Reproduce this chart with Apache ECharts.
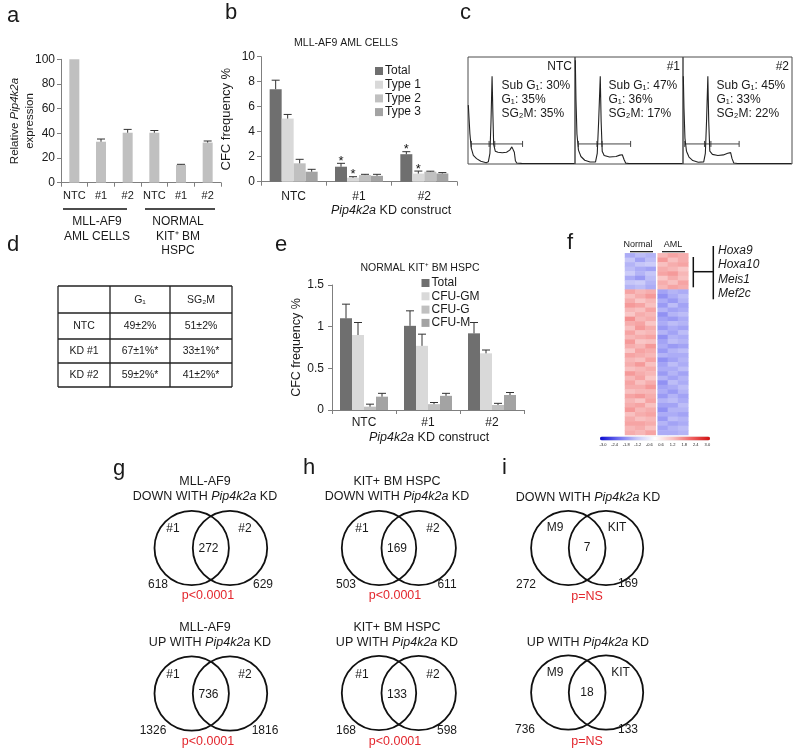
<!DOCTYPE html>
<html><head><meta charset="utf-8">
<script src="https://cdn.jsdelivr.net/npm/echarts@6/dist/echarts.min.js"></script>
<style>html,body{margin:0;padding:0;background:#fff}#c{width:800px;height:755px}</style>
</head><body><div id="c"></div>
<script>
const FONT = '"Liberation Sans", Arial, sans-serif';

// ---------- Panel a ----------
const aCategories = ['NTC', '#1', '#2', 'NTC', '#1', '#2'];
const aValues = [100, 33.2, 40.5, 40.5, 14.5, 32.5];
const aErrors = [0, 2.2, 2.7, 1.8, 0.4, 1.3];
const aGroup1 = ['MLL-AF9', 'AML CELLS'];
const aGroup2 = ['NORMAL', 'KIT\u207A BM', 'HSPC'];

// ---------- Panel b ----------
const bCategories = ['NTC', '#1', '#2'];
const bSeriesNames = ['Total', 'Type 1', 'Type 2', 'Type 3'];
const bTotal = [7.4, 1.2, 2.2];
const bType1 = [5.05, 0.32, 0.65];
const bType2 = [1.47, 0.53, 0.8];
const bType3 = [0.8, 0.47, 0.66];
const bTotalErr = [0.72, 0.27, 0.2];
const bType1Err = [0.33, 0.08, 0.2];
const bType2Err = [0.32, 0.06, 0.04];
const bType3Err = [0.19, 0.12, 0.07];
const bTotalSig = [0, 1, 1];
const bType1Sig = [0, 1, 1];

// ---------- Panel c ----------
const cLabels = ['NTC', '#1', '#2'];
const cSubG1 = [30, 47, 45];
const cG1 = [35, 36, 33];
const cSG2M = [35, 17, 22];
const cHistNTC = [[0.3,55],[1,42],[1.8,28],[3,15],[5,8],[8,5],[12,2.5],[17,1.2],[19,2],[20.5,10],[21.5,40],[22.5,82],[23.3,45],[24,18],[25.5,12],[28,11],[32,10.5],[36,11],[39,13],[41,16],[42.2,17],[43.3,11],[44.3,3],[45.5,1],[50,0.6],[99.5,0.5]];
const cHist1 = [[0.3,97],[0.9,60],[1.8,28],[3.2,13],[5.5,7],[9,3.5],[14,1.8],[19,2],[20.6,10],[21.9,40],[23.4,82],[24.2,40],[25.2,12],[27,8],[32,6.5],[38,7],[41.5,8.3],[43.8,8.6],[45.5,4],[47,0.8],[50,0.5],[99.5,0.5]];
const cHist2 = [[0.3,82],[0.9,52],[1.8,24],[3.2,12],[5.5,6.5],[9,3.2],[14,1.6],[19,2],[20.5,10],[21.6,40],[22.8,82],[23.6,40],[24.6,12],[27,9],[32,8],[37,8.5],[41,10],[43.7,10.6],[45,5],[46.6,1],[50,0.5],[99.5,0.5]];
const cGates = [[3.1, 51, 19.7, 25, 18.75], [3.1, 51.5, 20.3, 25, 18.75], [1.6, 51.5, 19.7, 25.6, 18.75]];

// ---------- Panel d ----------
const dHeader = ['', 'G\u2081', 'SG\u2082M'];
const dRows = ['NTC', 'KD #1', 'KD #2'];
const dG1 = ['49\u00B12%', '67\u00B11%*', '59\u00B12%*'];
const dSG2M = ['51\u00B12%', '33\u00B11%*', '41\u00B12%*'];

// ---------- Panel e ----------
const eCategories = ['NTC', '#1', '#2'];
const eSeriesNames = ['Total', 'CFU-GM', 'CFU-G', 'CFU-M'];
const eTotal = [1.1, 1.01, 0.92];
const eGM = [0.9, 0.77, 0.68];
const eG = [0.04, 0.07, 0.06];
const eM = [0.16, 0.17, 0.18];
const eTotalErr = [0.17, 0.18, 0.13];
const eGMErr = [0.15, 0.14, 0.04];
const eGErr = [0.03, 0.02, 0.02];
const eMErr = [0.04, 0.03, 0.03];

// ---------- Panel f ----------
const fGroups = ['Normal', 'AML'];
const fGenes = ['Hoxa9', 'Hoxa10', 'Meis1', 'Mef2c'];
const fColorbarTicks = ['-3.0','-2.4','-1.8','-1.2','-0.6','0.6','1.2','1.8','2.4','3.0'];
const normalRows = [
[-1.3,-1.1,-1.2],[-1.0,-1.4,-1.1],[-1.2,-1.0,-0.9],[-1.1,-1.3,-1.4],[-0.9,-1.2,-1.0],[-1.3,-1.5,-1.1],[-1.0,-0.9,-1.2],[-1.2,-1.1,-1.3],
[1.3,1.1,1.2],[1.0,1.2,1.4],[1.2,0.9,1.1],[1.4,1.3,1.0],[1.1,1.0,1.3],[0.9,1.2,1.1],[1.5,1.1,1.2],[1.2,1.3,0.9],
[1.0,1.4,1.2],[1.3,1.0,1.1],[1.1,1.2,1.3],[1.4,0.9,1.0],[1.2,1.1,1.4],[0.9,1.3,1.2],[1.3,1.2,1.1],[1.1,1.0,1.3],
[1.2,1.4,1.0],[1.0,1.1,1.2],[1.4,1.2,1.1],[1.1,1.3,0.9],[1.3,1.0,1.2],[1.2,1.2,1.4],[1.0,1.1,1.1],[1.3,1.4,1.2],
[1.1,0.9,1.3],[1.2,1.3,1.0],[1.4,1.1,1.2],[1.0,1.2,1.3],[1.2,1.0,1.1],[1.3,1.3,1.2],[1.1,1.2,1.0],[1.2,1.1,1.3]];
const amlRows = [
[1.1,1.3,1.2],[1.4,1.0,1.2],[1.0,1.2,1.3],[1.2,1.1,0.9],[1.3,1.4,1.1],[0.9,1.2,1.0],[1.2,1.0,1.3],[1.1,1.3,1.2],
[-1.4,-1.2,-1.3],[-1.6,-1.3,-1.1],[-1.3,-1.5,-1.2],[-1.5,-1.1,-1.4],[-1.2,-1.4,-1.3],[-1.6,-1.2,-1.1],[-1.4,-1.5,-1.3],[-1.3,-1.1,-1.2],
[-1.5,-1.3,-1.4],[-1.2,-1.4,-1.1],[-1.6,-1.2,-1.3],[-1.4,-1.1,-1.2],[-1.3,-1.5,-1.4],[-1.5,-1.2,-1.1],[-1.2,-1.3,-1.3],[-1.6,-1.4,-1.2],
[-1.4,-1.1,-1.3],[-1.3,-1.3,-1.1],[-1.5,-1.2,-1.4],[-1.2,-1.4,-1.2],[-1.6,-1.1,-1.3],[-1.4,-1.3,-1.1],[-1.3,-1.5,-1.2],[-1.5,-1.2,-1.4],
[-1.2,-1.1,-1.3],[-1.4,-1.4,-1.1],[-1.6,-1.2,-1.2],[-1.3,-1.3,-1.4],[-1.5,-1.1,-1.2],[-1.2,-1.4,-1.3],[-1.4,-1.2,-1.1],[-1.3,-1.3,-1.2]];

// ---------- Panels g, h, i (Venn) ----------
const vennSetLabels = [['#1','#2'],['#1','#2'],['#1','#2'],['#1','#2'],['M9','KIT'],['M9','KIT']];
const vennCounts = [[618,272,629],[1326,736,1816],[503,169,611],[168,133,598],[272,7,169],[736,18,133]];
const vennP = ['p<0.0001','p<0.0001','p<0.0001','p<0.0001','p=NS','p=NS'];
const vennTitle1 = ['MLL-AF9','MLL-AF9','KIT+ BM HSPC','KIT+ BM HSPC','',''];
const vennDirection = ['DOWN','UP','DOWN','UP','DOWN','UP'];

// ================= layout / drawing =================
const BAR_COLORS = ['#6f6f6f', '#d9d9d9', '#c0c0c0', '#a3a3a3'];
const AX = '#7f7f7f';
const TXT = '#1a1a1a';

const G = [];
function T(x, y, text, o) {
  o = o || {};
  const st = {text: text, fill: o.fill || TXT, font: (o.italic ? 'italic ' : '') + (o.size || 12) + 'px ' + FONT,
    textAlign: o.align || 'center', align: o.align || 'center',
    textVerticalAlign: o.va || 'middle', verticalAlign: o.va || 'middle'};
  if (o.rich) st.rich = o.rich;
  G.push({type: 'text', x: x, y: y, silent: true, z: 10, style: st});
}
function L(x1, y1, x2, y2, w, c) {
  G.push({type: 'line', silent: true, z: 10, shape: {x1: x1, y1: y1, x2: x2, y2: y2}, style: {stroke: c || '#111', lineWidth: w || 1}});
}
function richN(size) {
  return {n: {font: size + 'px ' + FONT, fill: TXT}, i: {font: 'italic ' + size + 'px ' + FONT, fill: TXT}};
}

// panel letters
[['a',7,16],['b',225,13],['c',460,13],['d',7,244.5],['e',275,244.5],['f',567,243],['g',113,469],['h',303,468],['i',502,468]]
  .forEach(p => T(p[1], p[2], p[0], {size: 22, align: 'left'}));

// panel a group labels
L(63, 209, 127, 209, 1.5); L(145, 209, 215, 209, 1.5);
aGroup1.forEach((s, k) => T(97, 222 + k * 14.5, s, {size: 12}));
aGroup2.forEach((s, k) => T(178, 222 + k * 14.5, s, {size: 12}));

// panel b title / x name
T(346, 43, 'MLL-AF9 AML CELLS', {size: 10.5});
T(391, 211, '{i|Pip4k2a}{n| KD construct}', {size: 12.5, rich: richN(12.5)});

// panel c texts
const cBoxes = [[468, 107], [575, 108], [683, 109]];
cBoxes.forEach((b, k) => {
  T(b[0] + b[1] - 3, 67, cLabels[k], {size: 12, align: 'right'});
  T(b[0] + 33.5, 86, 'Sub G\u2081: ' + cSubG1[k] + '%', {size: 12, align: 'left'});
  T(b[0] + 33.5, 100, 'G\u2081: ' + cG1[k] + '%', {size: 12, align: 'left'});
  T(b[0] + 33.5, 114, 'SG\u2082M: ' + cSG2M[k] + '%', {size: 12, align: 'left'});
});

// panel d table
const dCols = [58, 110, 170, 232];
const dRowsY = [286, 313, 339, 363, 387];
dCols.forEach(x => L(x, dRowsY[0], x, dRowsY[4], 1.3, '#222'));
dRowsY.forEach(y => L(dCols[0], y, dCols[3], y, 1.3, '#222'));
const colC = [84, 140, 201];
dHeader.forEach((s, k) => T(colC[k], 300, s, {size: 10.5}));
dRows.forEach((s, r) => {
  const y = (dRowsY[r + 1] + dRowsY[r + 2]) / 2;
  T(colC[0], y, s, {size: 10.5}); T(colC[1], y, dG1[r], {size: 10.5}); T(colC[2], y, dSG2M[r], {size: 10.5});
});

// panel e title / x name
T(420, 268, 'NORMAL KIT\u207A BM HSPC', {size: 10.5});
T(429, 438, '{i|Pip4k2a}{n| KD construct}', {size: 12.5, rich: richN(12.5)});

// panel f labels
T(638, 245, fGroups[0], {size: 9}); T(673, 245, fGroups[1], {size: 9});
L(630, 251.7, 653, 251.7, 1.2); L(662, 251.7, 685, 251.7, 1.2);
L(693.3, 257, 693.3, 287.3, 1.5); L(693.3, 271.7, 713.3, 271.7, 1.5); L(713.3, 246, 713.3, 299.3, 1.5);
fGenes.forEach((g, k) => T(718, 250.7 + k * 14.3, g, {size: 12, italic: true, align: 'left'}));
fColorbarTicks.forEach((t, k) => T(603 + k * 11.6, 445, t, {size: 4}));

// Venn diagrams
const vennLayout = [
  {cx: [191.7, 230], cy: 548, lbl: [[173,529],[245,529]], cnt: [[158,585],[208.5,549],[263,585]], p: [208,596], t: [[205,481.5],[205,496.5]]},
  {cx: [191.7, 230], cy: 693.5, lbl: [[173,675],[245,675]], cnt: [[153,731],[208.5,695],[265,731]], p: [208,742], t: [[205,628],[210,643]]},
  {cx: [379, 418.7], cy: 548, lbl: [[362,529],[433,529]], cnt: [[346,585],[397,549],[447,585]], p: [395,596], t: [[397,481.5],[397,496.5]]},
  {cx: [379, 418.7], cy: 693, lbl: [[362,675],[433,675]], cnt: [[346,731],[397,695],[447,731]], p: [395,742], t: [[397,628],[397,643]]},
  {cx: [568.3, 606], cy: 548, lbl: [[555,528],[617,528]], cnt: [[526,585],[587,548],[628,584]], p: [587,597], t: [[588,482],[588,497.5]]},
  {cx: [568.3, 606], cy: 692.5, lbl: [[555,673],[620.5,673]], cnt: [[525,730],[587,693],[628,729.5]], p: [587,742], t: [[588,628],[588,643]]}
];
vennLayout.forEach((v, k) => {
  v.cx.forEach(cx => G.push({type: 'circle', silent: true, z: 9, shape: {cx: cx, cy: v.cy, r: 37.2}, style: {fill: 'none', stroke: '#111', lineWidth: 1.8}}));
  vennSetLabels[k].forEach((s, j) => T(v.lbl[j][0], v.lbl[j][1], s, {size: 12}));
  vennCounts[k].forEach((n, j) => T(v.cnt[j][0], v.cnt[j][1], String(n), {size: 12}));
  T(v.p[0], v.p[1], vennP[k], {size: 12.5, fill: '#e3262d'});
  if (vennTitle1[k]) T(v.t[0][0], v.t[0][1], vennTitle1[k], {size: 12.5});
  T(v.t[1][0], v.t[1][1], '{n|' + vennDirection[k] + ' WITH }{i|Pip4k2a}{n| KD}', {size: 12.5, rich: richN(12.5)});
});

// ================= helpers for series =================
function errRender(bw, capW) {
  return function (params, api) {
    const cat = api.value(0), v = api.value(1), e = api.value(2), s = api.value(3), star = api.value(4);
    const base = api.coord([cat, v]);
    const top = api.coord([cat, v + e]);
    const x = base[0] + (s - 1.5) * bw;
    const st = {stroke: '#333', lineWidth: 1};
    const ch = [];
    if (e > 0) {
      ch.push({type: 'line', shape: {x1: x, y1: base[1], x2: x, y2: top[1]}, style: st});
      ch.push({type: 'line', shape: {x1: x - capW / 2, y1: top[1], x2: x + capW / 2, y2: top[1]}, style: st});
    }
    if (star) ch.push({type: 'text', x: x, y: top[1] - 2, style: {text: '*', font: '13px ' + FONT, fill: '#111',
      textAlign: 'center', align: 'center', textVerticalAlign: 'middle', verticalAlign: 'middle'}});
    return {type: 'group', children: ch};
  };
}
function gateRender(params, api) {
  const y = api.value(4);
  const p0 = api.coord([api.value(0), y]), p1 = api.coord([api.value(1), y]);
  const t1 = api.coord([api.value(2), y]), t2 = api.coord([api.value(3), y]);
  const st = {stroke: '#444', lineWidth: 1};
  const h = 3;
  const seg = (a, b, c, d) => ({type: 'line', shape: {x1: a, y1: b, x2: c, y2: d}, style: st});
  return {type: 'group', children: [
    seg(p0[0], p0[1], p1[0], p1[1]),
    seg(p0[0], p0[1] - h, p0[0], p0[1] + h), seg(p1[0], p1[1] - h, p1[0], p1[1] + h),
    seg(t1[0], t1[1] - h, t1[0], t1[1] + h), seg(t2[0], t2[1] - h, t2[0], t2[1] + h)
  ]};
}

const axisLine = {show: true, lineStyle: {color: AX, width: 1}};
const tickOut = {show: true, length: 4, inside: false, lineStyle: {color: AX}};
function catX(grid, data, margin, size) {
  return {gridIndex: grid, type: 'category', data: data, axisLine: axisLine,
    axisTick: {show: true, length: 4, alignWithLabel: false, interval: 0, lineStyle: {color: AX}},
    axisLabel: {interval: 0, margin: margin, fontSize: size, color: TXT, fontFamily: FONT}, splitLine: {show: false}};
}
function valY(grid, min, max, interval, margin, name, nameGap, nameSize, rich) {
  const o = {gridIndex: grid, type: 'value', min: min, max: max, interval: interval, axisLine: axisLine, axisTick: tickOut,
    splitLine: {show: false}, axisLabel: {margin: margin, fontSize: 12, color: TXT, fontFamily: FONT},
    name: name, nameLocation: 'middle', nameRotate: 90, nameGap: nameGap, nameMoveOverlap: false,
    nameTextStyle: {fontSize: nameSize, color: TXT, fontFamily: FONT}};
  if (rich) o.nameTextStyle.rich = rich;
  return o;
}
const hidden = (grid, extra) => Object.assign({gridIndex: grid, show: false, splitLine: {show: false}}, extra);

const grids = [
  {left: 61, top: 59.3, width: 160, height: 123.4},
  {left: 261, top: 56.7, width: 196, height: 125},
  {left: 468, top: 57, width: 107, height: 107, show: true, borderColor: '#4d4d4d', borderWidth: 1, backgroundColor: 'transparent'},
  {left: 575, top: 57, width: 108, height: 107, show: true, borderColor: '#4d4d4d', borderWidth: 1, backgroundColor: 'transparent'},
  {left: 683, top: 57, width: 109, height: 107, show: true, borderColor: '#4d4d4d', borderWidth: 1, backgroundColor: 'transparent'},
  {left: 332, top: 285, width: 192, height: 125},
  {left: 625, top: 253.3, width: 30.7, height: 181.7},
  {left: 657.7, top: 253.3, width: 30.6, height: 181.7}
].map(g => Object.assign({containLabel: false, outerBoundsMode: 'none'}, g));

const rowCats = normalRows.map((r, i) => 'r' + i);
const xAxes = [
  catX(0, aCategories, 8, 11),
  catX(1, bCategories, 9, 12),
  hidden(2, {type: 'value', min: 0, max: 100}),
  hidden(3, {type: 'value', min: 0, max: 100}),
  hidden(4, {type: 'value', min: 0, max: 100}),
  catX(5, eCategories, 7, 12),
  hidden(6, {type: 'category', data: ['n1', 'n2', 'n3']}),
  hidden(7, {type: 'category', data: ['a1', 'a2', 'a3']})
];
const yAxes = [
  valY(0, 0, 100, 20, 6, '{n|Relative }{i|Pip4k2a}\n{n|expression}', 24, 11.5,
    {n: {fontSize: 11.5, lineHeight: 14.5, fontFamily: FONT, color: TXT}, i: {fontSize: 11.5, lineHeight: 14.5, fontStyle: 'italic', fontFamily: FONT, color: TXT}}),
  valY(1, 0, 10, 2, 6, 'CFC frequency %', 28, 13),
  hidden(2, {type: 'value', min: 0, max: 100}),
  hidden(3, {type: 'value', min: 0, max: 100}),
  hidden(4, {type: 'value', min: 0, max: 100}),
  valY(5, 0, 1.5, 0.5, 8, 'CFC frequency %', 29, 12.5),
  hidden(6, {type: 'category', data: rowCats, inverse: true}),
  hidden(7, {type: 'category', data: rowCats, inverse: true})
];

const series = [];
// a
series.push({type: 'bar', xAxisIndex: 0, yAxisIndex: 0, data: aValues, barWidth: 10, itemStyle: {color: '#c0c0c0'}, silent: true});
series.push({type: 'custom', xAxisIndex: 0, yAxisIndex: 0, renderItem: errRender(0, 8), silent: true, z: 5,
  data: aValues.map((v, i) => [i, v, aErrors[i], 1.5, 0])});
// b
const bVals = [bTotal, bType1, bType2, bType3];
const bErrs = [bTotalErr, bType1Err, bType2Err, bType3Err];
const bSig = [bTotalSig, bType1Sig, [0, 0, 0], [0, 0, 0]];
bVals.forEach((arr, s) => series.push({type: 'bar', name: bSeriesNames[s], xAxisIndex: 1, yAxisIndex: 1, data: arr,
  barWidth: 12, barGap: '0%', itemStyle: {color: BAR_COLORS[s]}, silent: true}));
const errB = [];
bVals.forEach((arr, s) => arr.forEach((v, i) => errB.push([i, v, bErrs[s][i], s, bSig[s][i]])));
series.push({type: 'custom', xAxisIndex: 1, yAxisIndex: 1, renderItem: errRender(12, 8), data: errB, silent: true, z: 5});
// c
[cHistNTC, cHist1, cHist2].forEach((h, k) => series.push({type: 'line', xAxisIndex: 2 + k, yAxisIndex: 2 + k, data: h,
  symbol: 'none', showSymbol: false, lineStyle: {color: '#222', width: 1.1}, silent: true}));
cGates.forEach((g, k) => series.push({type: 'custom', xAxisIndex: 2 + k, yAxisIndex: 2 + k, renderItem: gateRender, data: [g], silent: true}));
// e
const eVals = [eTotal, eGM, eG, eM];
const eErrs = [eTotalErr, eGMErr, eGErr, eMErr];
eVals.forEach((arr, s) => series.push({type: 'bar', name: eSeriesNames[s], xAxisIndex: 5, yAxisIndex: 5, data: arr,
  barWidth: 12, barGap: '0%', itemStyle: {color: BAR_COLORS[s]}, silent: true}));
const errE = [];
eVals.forEach((arr, s) => arr.forEach((v, i) => errE.push([i, v, eErrs[s][i], s, 0])));
series.push({type: 'custom', xAxisIndex: 5, yAxisIndex: 5, renderItem: errRender(12, 8), data: errE, silent: true, z: 5});
// f
const hmIndex = series.length;
series.push({type: 'heatmap', xAxisIndex: 6, yAxisIndex: 6, silent: true,
  data: normalRows.flatMap((r, i) => r.map((v, j) => [j, i, v]))});
series.push({type: 'heatmap', xAxisIndex: 7, yAxisIndex: 7, silent: true,
  data: amlRows.flatMap((r, i) => r.map((v, j) => [j, i, v]))});

const option = {
  animation: false,
  backgroundColor: '#fff',
  textStyle: {fontFamily: FONT},
  grid: grids,
  xAxis: xAxes,
  yAxis: yAxes,
  legend: [
    {orient: 'vertical', left: 375, top: 65, padding: 0, itemWidth: 8, itemHeight: 8, itemGap: 1.7, icon: 'rect',
      data: bSeriesNames, selectedMode: false, textStyle: {fontSize: 12, color: TXT, fontFamily: FONT, lineHeight: 12, padding: [0, 0, 0, -3]}},
    {orient: 'vertical', left: 421.5, top: 277, padding: 0, itemWidth: 8, itemHeight: 8, itemGap: 1.3, icon: 'rect',
      data: eSeriesNames, selectedMode: false, textStyle: {fontSize: 12, color: TXT, fontFamily: FONT, lineHeight: 12, padding: [0, 0, 0, -3]}}
  ],
  visualMap: {type: 'continuous', min: -3, max: 3, seriesIndex: [hmIndex, hmIndex + 1], orient: 'horizontal',
    left: 600, top: 436.5, padding: 0, itemWidth: 4, itemHeight: 110, calculable: false, text: null, hoverLink: false,
    inRange: {color: ['#0a0ad0', '#6e6ef0', '#c6c6f8', '#ffffff', '#f8c0c0', '#f06262', '#d01010']}},
  series: series,
  graphic: G
};
const chart = echarts.init(document.getElementById('c'), null, {renderer: 'canvas', width: 800, height: 755});
chart.setOption(option);
</script>
</body></html>
